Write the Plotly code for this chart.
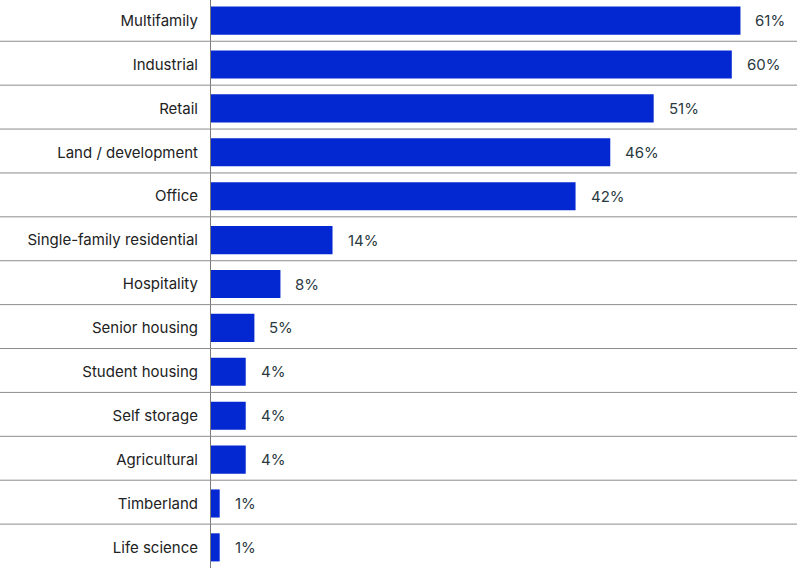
import plotly.graph_objects as go

categories = [
    "Multifamily", "Industrial", "Retail", "Land / development", "Office",
    "Single-family residential", "Hospitality", "Senior housing",
    "Student housing", "Self storage", "Agricultural", "Timberland", "Life science",
]
shares = [61, 60, 51, 46, 42, 14, 8, 5, 4, 4, 4, 1, 1]

BAR_COLOR = "#0328d2"
GRID_COLOR = "#8c8c8c"
FONT = "Inter"

positions = list(range(len(categories)))

fig = go.Figure(
    go.Bar(
        x=shares,
        y=positions,
        orientation="h",
        marker=dict(color=BAR_COLOR, line=dict(width=0)),
        width=0.64,
        hoverinfo="skip",
    )
)

# value labels to the right of each bar
for pos, val in zip(positions, shares):
    fig.add_annotation(
        x=val, y=pos, xref="x", yref="y",
        text=f"{val}%", showarrow=False,
        xanchor="left", xshift=13,
        font=dict(family=FONT, size=15, color="#2b3a3f"),
    )

# horizontal separators between rows, spanning full width
plot_left = 211
plot_width = 797 - plot_left
for pos in positions[:-1]:
    fig.add_shape(
        type="line", xref="paper", yref="y",
        x0=-plot_left / plot_width, x1=1,
        y0=pos + 0.47, y1=pos + 0.47,
        line=dict(color=GRID_COLOR, width=1),
    )

fig.update_layout(
    width=797, height=568,
    margin=dict(l=plot_left, r=0, t=0, b=0),
    paper_bgcolor="white", plot_bgcolor="white",
    showlegend=False,
    xaxis=dict(
        range=[0, plot_width / 8.68],
        showgrid=False, zeroline=False, showticklabels=False,
        showline=False, fixedrange=True,
    ),
    yaxis=dict(
        tickmode="array", tickvals=positions, ticktext=categories,
        range=[12.47, -0.47],
        showgrid=False, zeroline=False,
        ticks="outside", ticklen=9, tickcolor="rgba(0,0,0,0)",
        showline=True, linecolor="#7a7a7a", linewidth=1,
        tickfont=dict(family=FONT, size=15, color="#222222"),
        fixedrange=True,
    ),
)

fig.write_html("out.html")
